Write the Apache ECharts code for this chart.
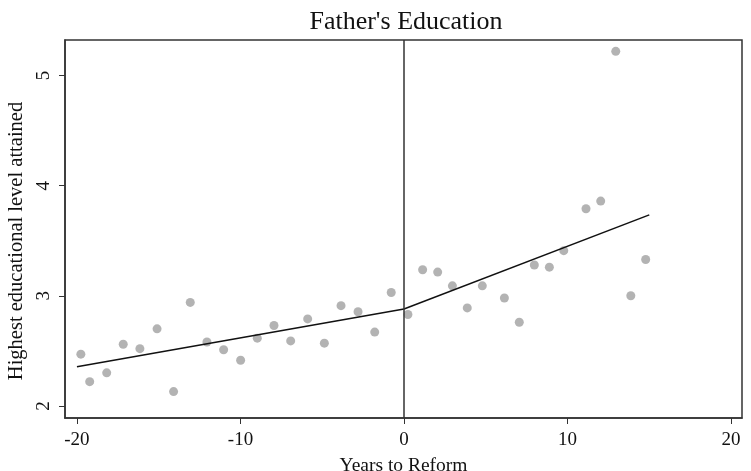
<!DOCTYPE html>
<html>
<head>
<meta charset="utf-8">
<script src="https://cdn.jsdelivr.net/npm/echarts@6/dist/echarts.min.js"></script>
<style>
  html, body { margin: 0; padding: 0; background: #fff; }
  #chart { width: 751px; height: 471px; }
</style>
</head>
<body>
<div id="chart"></div>
<script>
// binned means, years to reform vs education level
var yearsX = [-19.76, -19.22, -18.18, -17.17, -16.15, -15.1, -14.09, -13.07, -12.05, -11.03,
  -9.99, -8.97, -7.95, -6.93, -5.89, -4.87, -3.85, -2.81, -1.79, -0.78,
  0.24, 1.14, 2.06, 2.96, 3.87, 4.79, 6.14, 7.05, 7.97, 8.89,
  9.77, 11.13, 12.03, 12.95, 13.87, 14.78];
var eduY = [2.47, 2.22, 2.30, 2.56, 2.52, 2.70, 2.13, 2.94, 2.58, 2.51,
  2.415, 2.615, 2.73, 2.59, 2.79, 2.57, 2.91, 2.855, 2.67, 3.03,
  2.83, 3.236, 3.215, 3.09, 2.89, 3.09, 2.98, 2.76, 3.28, 3.26,
  3.41, 3.79, 3.86, 5.22, 3.00, 3.33];

// fitted lines either side of the reform
var fitLeftX = [-20, 0];
var fitLeftY = [2.355, 2.88];
var fitRightX = [0, 15];
var fitRightY = [2.88, 3.735];

var xTicks = [-20, -10, 0, 10, 20];
var yTicks = [2, 3, 4, 5];

function pairs(xs, ys) {
  return xs.map(function (x, i) { return [x, ys[i]]; });
}

var serif = "'Liberation Serif', 'DejaVu Serif', serif";

var chart = echarts.init(document.getElementById("chart"));

var option = {
  backgroundColor: "#fff",
  animation: false,
  title: {
    text: "Father's Education",
    left: 401,
    textAlign: "center",
    top: 4,
    textStyle: { fontFamily: serif, fontSize: 26, fontWeight: "normal", color: "#111" }
  },
  grid: {
    left: 65, right: 9, top: 40, bottom: 53,
    outerBoundsMode: "none",
    containLabel: false,
    show: true, borderColor: "#333", borderWidth: 1.5
  },
  xAxis: {
    type: "value",
    min: -20.73, max: 20.67,
    name: "Years to Reform",
    nameLocation: "middle",
    nameGap: 38,
    nameTextStyle: { fontFamily: serif, fontSize: 19.5, color: "#111" },
    axisLine: { show: true, onZero: false, lineStyle: { color: "#333", width: 1.5 } },
    axisTick: { show: true, length: 6, customValues: xTicks, lineStyle: { color: "#333" } },
    axisLabel: { customValues: xTicks, fontFamily: serif, fontSize: 19, color: "#111", margin: 13 },
    splitLine: { show: false }
  },
  yAxis: {
    type: "value",
    min: 1.89, max: 5.323,
    name: "Highest educational level attained",
    nameLocation: "middle",
    nameGap: 33,
    nameTextStyle: { fontFamily: serif, fontSize: 20.5, color: "#111", padding: [0, 24, 0, 0] },
    axisLine: { show: true, onZero: false, lineStyle: { color: "#333", width: 1.5 } },
    axisTick: { show: true, length: 6, customValues: yTicks, lineStyle: { color: "#333" } },
    axisLabel: { customValues: yTicks, rotate: 90, fontFamily: serif, fontSize: 19, color: "#111", margin: 11 },
    splitLine: { show: false }
  },
  series: [
    {
      type: "scatter",
      data: pairs(yearsX, eduY),
      symbolSize: 9,
      itemStyle: { color: "#a0a0a0" },
      markLine: {
        silent: true,
        symbol: "none",
        label: { show: false },
        lineStyle: { color: "#333", width: 1.5, type: "solid" },
        data: [{ xAxis: 0 }]
      }
    },
    {
      type: "line",
      data: pairs(fitLeftX, fitLeftY),
      showSymbol: false,
      lineStyle: { color: "#111", width: 1.5 }
    },
    {
      type: "line",
      data: pairs(fitRightX, fitRightY),
      showSymbol: false,
      lineStyle: { color: "#111", width: 1.5 }
    }
  ]
};

chart.setOption(option);
</script>
</body>
</html>
